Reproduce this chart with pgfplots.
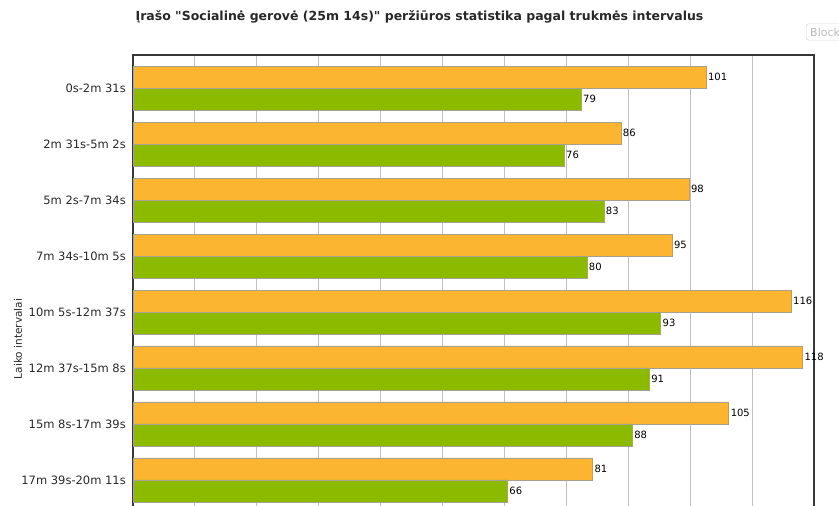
\documentclass[border=0pt]{standalone}
\usepackage{fontspec}
\setmainfont{DejaVu Sans}
\usepackage{pgfplots}
\pgfplotsset{compat=1.18}

% straight double quote, taken directly from the font so that no mapping turns it curly
\newcommand\sq{{\XeTeXglyph\XeTeXglyphindex "quotedbl"\relax}}

\definecolor{barorange}{RGB}{252,181,48}
\definecolor{bargreen}{RGB}{140,186,0}
\definecolor{barline}{RGB}{168,160,142}
\definecolor{gridgray}{RGB}{192,192,192}
\definecolor{framegray}{RGB}{55,55,55}
\definecolor{txt}{RGB}{40,40,40}

\begin{document}
\begin{tikzpicture}
\useasboundingbox (0pt,0pt) rectangle (839pt,-506pt);
\clip (0pt,0pt) rectangle (839pt,-506pt);

% title
\node[anchor=base, font=\bfseries\fontsize{12.5}{14}\selectfont, text=txt, inner sep=0pt]
  at (419.5pt,-20pt) {Įrašo \sq Socialinė gerovė (25m 14s)\sq{} peržiūros statistika pagal trukmės intervalus};

% small button in the corner
\node[anchor=west, draw=gray!35, rounded corners=3pt, text=gray!55,
      font=\fontsize{11}{13}\selectfont, minimum height=15pt, text width=50pt, align=left, inner sep=4pt]
  at (806pt,-32pt) {Block};

% axis title
\node[rotate=90, font=\fontsize{10.5}{12}\selectfont, text=txt] at (18pt,-339pt) {Laiko intervalai};

\begin{axis}[
  at={(133pt,-55pt)}, anchor=north west,
  scale only axis, width=681pt, height=570pt,
  xmin=0, xmax=120, ymin=-0.59, ymax=9.59,
  xbar, bar width=22pt,
  xtick={10.909,21.818,32.727,43.636,54.545,65.455,76.364,87.273,98.182,109.091},
  xticklabels={},
  xmajorgrids, grid style={gridgray, line width=0.9pt},
  ytick={9,8,7,6,5,4,3,2},
  yticklabels={0s-2m 31s,2m 31s-5m 2s,5m 2s-7m 34s,7m 34s-10m 5s,10m 5s-12m 37s,12m 37s-15m 8s,15m 8s-17m 39s,17m 39s-20m 11s},
  yticklabel style={font=\fontsize{11.5}{13}\selectfont, text=txt, inner sep=0pt, xshift=-7pt},
  major tick length=0pt,
  axis line style={framegray, line width=1.8pt},
  /pgf/number format/assume math mode=true,
  nodes near coords,
  every node near coord/.append style={font=\fontsize{10}{12}\selectfont, text=black, inner sep=1.5pt},
]
\addplot[fill=barorange, draw=barline, line width=0.8pt, bar shift=11pt]
  coordinates {(101,9) (86,8) (98,7) (95,6) (116,5) (118,4) (105,3) (81,2)};
\addplot[fill=bargreen, draw=barline, line width=0.8pt, bar shift=-11pt]
  coordinates {(79,9) (76,8) (83,7) (80,6) (93,5) (91,4) (88,3) (66,2)};
\end{axis}
\end{tikzpicture}
\end{document}
